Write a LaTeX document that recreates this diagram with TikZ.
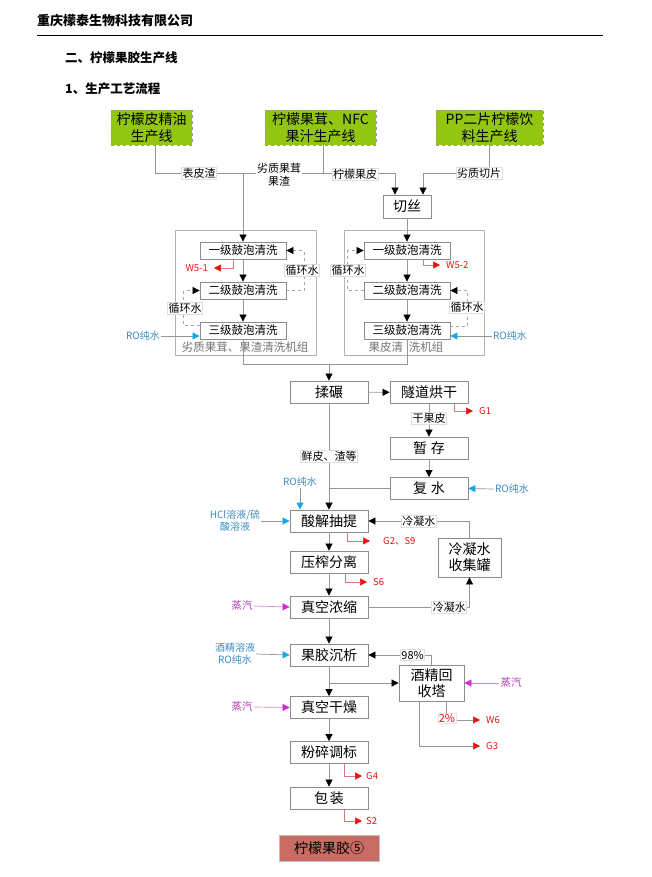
\documentclass[tikz,border=0pt]{standalone}
\usepackage{fontspec}
\newfontfamily\cjk{Noto Sans CJK SC}
\usetikzlibrary{arrows.meta}
\definecolor{srcgreen}{RGB}{146,198,16}
\definecolor{prodred}{RGB}{200,108,100}
\definecolor{boxgray}{RGB}{140,140,140}
\definecolor{linegray}{RGB}{150,150,150}
\definecolor{emred}{RGB}{230,20,20}
\definecolor{emline}{RGB}{215,120,120}
\definecolor{wblue}{RGB}{25,165,230}
\definecolor{wtext}{RGB}{60,140,195}
\definecolor{smag}{RGB}{215,40,215}
\definecolor{stext}{RGB}{185,60,185}
\tikzset{
  proc/.style={draw=boxgray, fill=white, line width=0.8pt, minimum width=78pt,
    minimum height=22pt, inner sep=0pt, font=\fontsize{14}{16}\selectfont\cjk},
  wash/.style={proc, minimum width=86pt, minimum height=17pt,
    font=\fontsize{11.5}{13}\selectfont\cjk},
  src/.style={draw=gray!80, dashed, fill=srcgreen, line width=0.8pt, minimum height=35pt,
    inner sep=0pt, align=center, font=\fontsize{14}{16.5}\selectfont\cjk},
  tag/.style={fill=white, draw=gray!25, inner sep=1pt, align=center,
    font=\fontsize{11}{12.5}\selectfont\cjk},
  line/.style={draw=linegray, line width=0.7pt},
  flow/.style={line, -{Triangle[length=7pt,width=7pt,color=black]}},
  recyc/.style={flow, draw=gray!70, dashed, line width=0.6pt},
  emis/.style={draw=emline, line width=0.7pt, -{Triangle[length=7pt,width=7pt,color=emred]}},
  water/.style={line, -{Triangle[length=7pt,width=7pt,color=wblue]}},
  steam/.style={draw=stext!60, line width=0.7pt, -{Triangle[length=7pt,width=7pt,color=smag]}},
  emtxt/.style={text=emred, anchor=west, inner sep=0pt, inner xsep=6pt,
    font=\fontsize{9.5}{11}\selectfont\cjk},
  intxt/.style={text=wtext, inner sep=1pt, align=center, font=\fontsize{10}{12}\selectfont\cjk},
  sttxt/.style={text=stext, inner sep=1pt, font=\fontsize{10.5}{12}\selectfont\cjk},
}
\begin{document}
\begin{tikzpicture}[x=1pt, y=-1pt]
  \useasboundingbox (0,0) rectangle (651,877);

  % En-tete
  \node[anchor=west, inner sep=0pt, font=\fontsize{13}{15}\selectfont\cjk\bfseries] (firm) at (37,21) {重庆檬泰生物科技有限公司};
  \draw[line width=0.8pt] (37,35) -- (603,35);
  \node[anchor=west, inner sep=0pt, font=\fontsize{12.5}{15}\selectfont\cjk\bfseries] (sec) at (65,58) {二、柠檬果胶生产线};
  \node[anchor=west, inner sep=0pt, font=\fontsize{12.5}{15}\selectfont\cjk\bfseries] (sub) at (65,89) {1、生产工艺流程};

  % Lignes sources
  \node[src, minimum width=81pt] (srcA) at (151.5,127.5) {柠檬皮精油\\生产线};
  \node[src, minimum width=111pt] (srcB) at (320.5,127.5) {柠檬果茸、NFC\\果汁生产线};
  \node[src, minimum width=107pt] (srcC) at (489.5,127.5) {PP二片柠檬饮\\料生产线};
  \node[proc, minimum width=48pt, minimum height=23pt] (qiesi) at (407,206.5) {切丝};

  \coordinate (jA) at (243,173);
  \coordinate (jB) at (323,173);
  \draw[line] (srcA.south -| 155,0) |- (jA);
  \draw[line] (srcB.south -| jB) -- (jB) -- (jA);
  \draw[flow] (jB) -| ([xshift=-12pt]qiesi.north);
  \draw[flow] (srcC.south) -- (srcC.south |- jB) -| ([xshift=16pt]qiesi.north);
  \node[tag] (tA) at (199,173) {表皮渣};
  \node[tag, draw=none] (tB) at (279,175) {劣质果茸\\果渣};
  \node[tag] (tC) at (355,174) {柠檬果皮};
  \node[tag] (tD) at (479,173) {劣质切片};

  % Clean groups
  \draw[draw=gray!60, line width=0.8pt] (175,230) rectangle (316,355);
  \draw[draw=gray!60, line width=0.8pt] (344,230) rectangle (484,355);
  \foreach \k/\t/\y in {1/一/250.5, 2/二/290.5, 3/三/330.5} {
    \node[wash] (wL\k) at (243,\y) {\t 级鼓泡清洗};
    \node[wash] (wR\k) at (407,\y) {\t 级鼓泡清洗};
  }
  \node[inner sep=0pt, text=gray!90!black, font=\fontsize{11.5}{13}\selectfont\cjk] (gL) at (245,347) {劣质果茸、果渣清洗机组};
  \node[inner sep=0pt, text=gray!90!black, font=\fontsize{11.5}{13}\selectfont\cjk] (gR) at (406,347) {果皮清\hspace{6pt}洗机组};

  \draw[flow] (jA) -- (wL1.north);
  \draw[flow] (wL1) -- (wL2);
  \draw[flow] (wL2) -- (wL3);
  \draw[flow] (qiesi.south) -- (wR1.north);
  \draw[flow] (wR1) -- (wR2);
  \draw[flow] (wR2) -- (wR3);

  \node[emtxt, anchor=east] (w51) at (214,268) {W5-1};
  \draw[emis] ([xshift=-10pt]wL1.south) |- (w51.east);
  \node[emtxt] (w52) at (440,265) {W5-2};
  \draw[emis] ([xshift=16pt]wR1.south) |- (w52.west);

  \draw[recyc] (wL2.east) -- ++(18,0) |- (wL1.east);
  \draw[recyc] ([yshift=-4pt]wL3.north west) -- ++(-16,0) |- (wL2.west);
  \draw[recyc] (wR2.west) -- ++(-16,0) |- (wR1.west);
  \draw[recyc] ([yshift=-5pt]wR3.north east) -- ++(17,0) |- (wR2.east);
  \node[tag] (c1) at (302,270) {循环水};
  \node[tag] (c2) at (185,308) {循环水};
  \node[tag] (c3) at (348,270) {循环水};
  \node[tag] (c4) at (467,307) {循环水};

  \node[intxt] (ro1) at (143,336) {RO纯水};
  \draw[water] (ro1.east) -- (wL3.west |- ro1.east);
  \node[intxt] (ro2) at (510,336) {RO纯水};
  \draw[water] (ro2.west) -- (wR3.east |- ro2.west);

  % Ligne principale
  \node[proc] (roucai) at (329,392) {揉碾};
  \node[proc] (hongan) at (429,392.5) {隧道烘干};
  \node[proc] (zancun) at (429,448) {暂\hspace{4pt}存};
  \node[proc] (fushui) at (429,488.5) {复\hspace{4pt}水};
  \node[proc] (suanjie) at (329,521) {酸解抽提};
  \node[proc] (yazha) at (329,562) {压榨分离};
  \node[proc] (nongsuo) at (329,607) {真空浓缩};
  \node[proc] (chenxi) at (329,655) {果胶沉析};
  \node[proc] (ganzao) at (329,707.5) {真空干燥};
  \node[proc] (fensui) at (329,752.5) {粉碎调标};
  \node[proc] (baozhuang) at (329,798) {包\hspace{2pt}装};
  \node[proc, minimum width=63pt, minimum height=39pt, align=center] (shouji) at (469.5,557.5) {冷凝水\\收集罐};
  \node[proc, minimum width=65pt, minimum height=36pt, align=center] (huishou) at (431.5,683) {酒精回\\收塔};
  \node[draw=gray!50, fill=prodred, minimum width=100pt, minimum height=26pt, inner sep=0pt,
    font=\fontsize{14}{16}\selectfont\cjk] (produit) at (329,848) {柠檬果胶⑤};

  \coordinate (m) at (329,364);
  \draw[line] (wL3.south) -- (wL3.south |- m) -- (wR3.south |- m) -- (wR3.south);
  \draw[flow] (m) -- (roucai.north);
  \draw[flow] (roucai) -- (hongan);
  \draw[flow] (hongan) -- (zancun) node[tag, pos=0.45] (t1) {干果皮};
  \draw[flow] (zancun) -- (fushui);
  \draw[flow] (roucai) -- (suanjie) node[tag, pos=0.5] (t2) {鲜皮、渣等};
  \draw[line] (fushui.west) -- (fushui.west -| roucai.south);
  \draw[flow] (suanjie) -- (yazha);
  \draw[flow] (yazha) -- (nongsuo);
  \draw[flow] (nongsuo) -- (chenxi);
  \draw[flow] (chenxi) -- (ganzao);
  \draw[flow] (ganzao) -- (fensui);
  \draw[flow] (fensui) -- (baozhuang);
  \coordinate (b) at (329,683);
  \draw[flow] (b) -- (huishou.west);

  % Condensats et alcool
  \draw[flow] (shouji.north) |- (suanjie.east) node[tag, pos=0.75] (t3) {冷凝水};
  \draw[flow] (nongsuo.east) -| (shouji.south) node[tag, pos=0.4] (t4) {冷凝水};
  \draw[flow] (huishou.north) |- (chenxi.east) node[tag, pos=0.65] (t5) {98\%};

  % Emissions
  \node[emtxt] (g1) at (473,411) {G1};
  \draw[emis] ([xshift=25pt]hongan.south) |- (g1.west);
  \node[emtxt, inner xsep=13pt] (g2) at (370,541) {G2、S9};
  \draw[emis] ([xshift=18pt]suanjie.south) |- (g2.west);
  \node[emtxt] (s6) at (367,582) {S6};
  \draw[emis] ([xshift=16pt]yazha.south) |- (s6.west);
  \node[emtxt] (w6) at (480,720) {W6};
  \draw[emis, draw=linegray] ([xshift=15pt]huishou.south) |- (w6.west);
  \node[tag, text=emred, draw=gray!20] (t6) at (447,718) {2\%};
  \node[emtxt] (g3) at (480,746) {G3};
  \draw[emis, draw=linegray] ([xshift=-12pt]huishou.south) |- (g3.west);
  \node[emtxt, inner xsep=4pt] (g4) at (362,776) {G4};
  \draw[emis] ([xshift=15pt]fensui.south) |- (g4.west);
  \node[emtxt, inner xsep=4pt] (s2) at (362,821) {S2};
  \draw[emis] ([xshift=15pt]baozhuang.south) |- (s2.west);

  % Entrees
  \node[intxt] (ro3) at (512,489) {RO纯水};
  \draw[water] (ro3.west) -- (fushui.east);
  \node[intxt] (ro4) at (300,482) {RO纯水};
  \draw[water] (ro4.south) -- (ro4.south |- suanjie.north);
  \node[intxt] (hcl) at (235,521) {HCl溶液/硫\\酸溶液};
  \draw[water] (hcl.east) -- (suanjie.west);
  \node[intxt] (jj) at (235,654) {酒精溶液\\RO纯水};
  \draw[water] (jj.east) -- (chenxi.west);
  \node[sttxt] (st1) at (242,606) {蒸汽};
  \draw[steam] (st1.east) -- (nongsuo.west);
  \node[sttxt] (st2) at (242,707) {蒸汽};
  \draw[steam] (st2.east) -- (ganzao.west);
  \node[sttxt] (st3) at (511,683) {蒸汽};
  \draw[steam] (st3.west) -- (huishou.east);
\end{tikzpicture}
\end{document}
